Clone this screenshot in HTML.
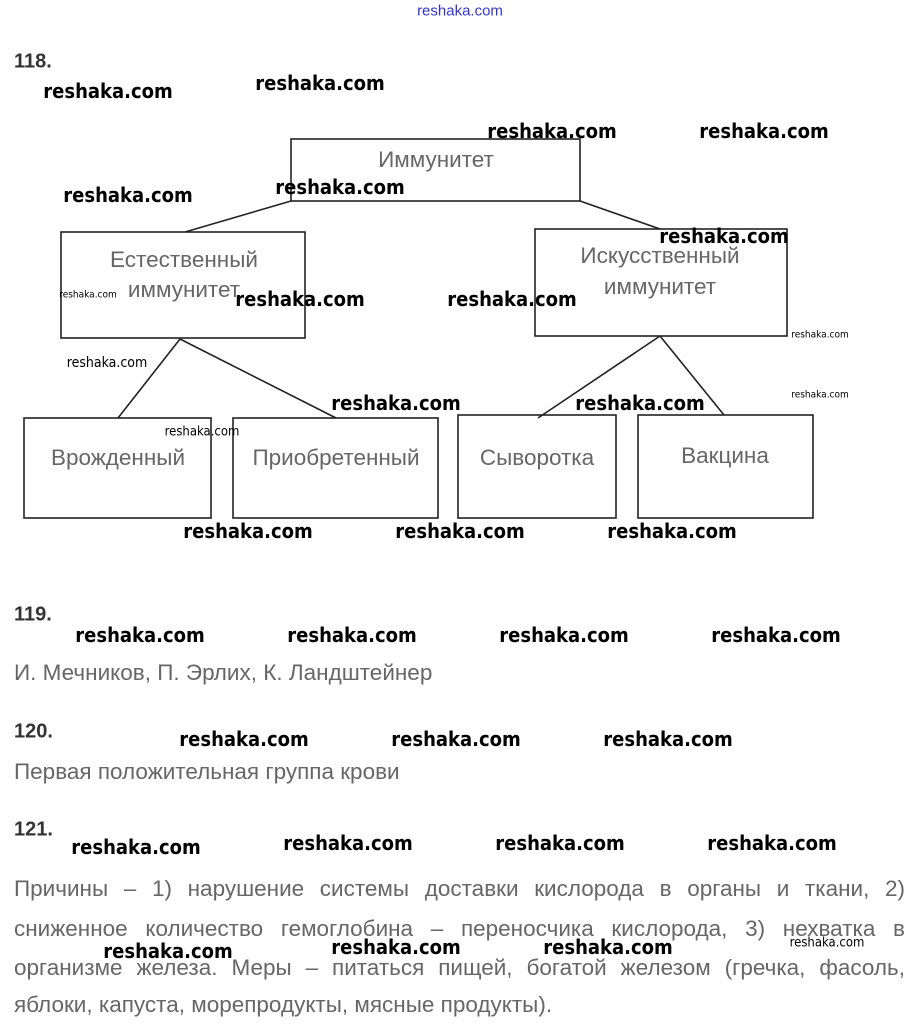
<!DOCTYPE html>
<html><head><meta charset="utf-8"><style>
body{margin:0;width:918px;height:1032px;background:#fff;position:relative;overflow:hidden;font-family:"Liberation Sans",sans-serif}
.t{position:absolute;transform:translate(-50%,-50%);white-space:nowrap;color:#666;font-size:22.5px}
.w{position:absolute;transform:translate(-50%,-50%);white-space:nowrap;color:#000;font-weight:bold;font-size:20px;font-family:"DejaVu Sans Condensed","Liberation Sans Narrow","Liberation Sans",sans-serif}
.h{position:absolute;left:14px;transform:translateY(-50%);font-weight:bold;font-size:20px;color:#333}
.p{position:absolute;left:14px;width:891px;color:#666;font-size:22.5px;text-align:justify;text-align-last:justify;white-space:nowrap}
</style></head><body>
<div class="t" style="left:460px;top:11px;font-size:15px;color:#3333cc">reshaka.com</div>
<svg width="918" height="1032" style="position:absolute;left:0;top:0" fill="none" stroke="#222" stroke-width="1.6">
<rect x="291" y="139" width="289" height="62"/>
<rect x="61" y="232" width="244" height="106"/>
<rect x="535" y="229" width="252" height="107"/>
<rect x="24" y="418" width="187" height="100"/>
<rect x="233" y="418" width="205" height="100"/>
<rect x="458" y="415" width="158" height="103"/>
<rect x="638" y="415" width="175" height="103"/>
<line x1="291" y1="201" x2="185" y2="232"/>
<line x1="580" y1="201" x2="660" y2="229"/>
<line x1="180" y1="339" x2="118" y2="418"/>
<line x1="180" y1="339" x2="336" y2="418"/>
<line x1="660" y1="336" x2="538" y2="418"/>
<line x1="660" y1="336" x2="724" y2="415"/>
</svg>
<div class="t" style="left:436px;top:160px">Иммунитет</div>
<div class="t" style="left:184px;top:260px">Естественный</div>
<div class="t" style="left:184px;top:290px">иммунитет</div>
<div class="t" style="left:660px;top:256px">Искусственный</div>
<div class="t" style="left:660px;top:287px">иммунитет</div>
<div class="t" style="left:118px;top:458px">Врожденный</div>
<div class="t" style="left:336px;top:458px">Приобретенный</div>
<div class="t" style="left:537px;top:458px">Сыворотка</div>
<div class="t" style="left:725px;top:456px">Вакцина</div>

<div class="h" style="top:62px">118.</div>
<div class="h" style="top:615px">119.</div>
<div class="h" style="top:732px">120.</div>
<div class="h" style="top:830px">121.</div>
<div class="t" style="left:14px;top:673px;transform:translateY(-50%)">И. Мечников, П. Эрлих, К. Ландштейнер</div>
<div class="t" style="left:14px;top:772px;transform:translateY(-50%)">Первая положительная группа крови</div>
<div class="p" style="top:876px">Причины – 1) нарушение системы доставки кислорода в органы и ткани, 2)</div>
<div class="p" style="top:916px">сниженное количество гемоглобина – переносчика кислорода, 3) нехватка в</div>
<div class="p" style="top:955px">организме железа. Меры – питаться пищей, богатой железом (гречка, фасоль,</div>
<div class="t" style="left:14px;top:1005px;transform:translateY(-50%)">яблоки, капуста, морепродукты, мясные продукты).</div>

<div class="w" style="left:108px;top:91px">reshaka.com</div>
<div class="w" style="left:320px;top:83px">reshaka.com</div>
<div class="w" style="left:552px;top:131px">reshaka.com</div>
<div class="w" style="left:764px;top:131px">reshaka.com</div>
<div class="w" style="left:128px;top:195px">reshaka.com</div>
<div class="w" style="left:340px;top:187px">reshaka.com</div>
<div class="w" style="left:724px;top:236px">reshaka.com</div>
<div class="w" style="left:300px;top:299px">reshaka.com</div>
<div class="w" style="left:512px;top:299px">reshaka.com</div>
<div class="w" style="left:396px;top:403px">reshaka.com</div>
<div class="w" style="left:640px;top:403px">reshaka.com</div>
<div class="w" style="left:248px;top:531px">reshaka.com</div>
<div class="w" style="left:460px;top:531px">reshaka.com</div>
<div class="w" style="left:672px;top:531px">reshaka.com</div>
<div class="w" style="left:140px;top:635px">reshaka.com</div>
<div class="w" style="left:352px;top:635px">reshaka.com</div>
<div class="w" style="left:564px;top:635px">reshaka.com</div>
<div class="w" style="left:776px;top:635px">reshaka.com</div>
<div class="w" style="left:244px;top:739px">reshaka.com</div>
<div class="w" style="left:456px;top:739px">reshaka.com</div>
<div class="w" style="left:668px;top:739px">reshaka.com</div>
<div class="w" style="left:136px;top:847px">reshaka.com</div>
<div class="w" style="left:348px;top:843px">reshaka.com</div>
<div class="w" style="left:560px;top:843px">reshaka.com</div>
<div class="w" style="left:772px;top:843px">reshaka.com</div>
<div class="w" style="left:168px;top:951px">reshaka.com</div>
<div class="w" style="left:396px;top:947px">reshaka.com</div>
<div class="w" style="left:608px;top:947px">reshaka.com</div>
<div class="w" style="left:88px;top:295px;font-size:10px;font-weight:normal">reshaka.com</div>
<div class="w" style="left:820px;top:335px;font-size:10px;font-weight:normal">reshaka.com</div>
<div class="w" style="left:820px;top:395px;font-size:10px;font-weight:normal">reshaka.com</div>
<div class="w" style="left:202px;top:432px;font-size:13px;font-weight:normal">reshaka.com</div>
<div class="w" style="left:107px;top:363px;font-size:14px;font-weight:normal">reshaka.com</div>
<div class="w" style="left:827px;top:943px;font-size:13px;font-weight:normal">reshaka.com</div>
</body></html>
